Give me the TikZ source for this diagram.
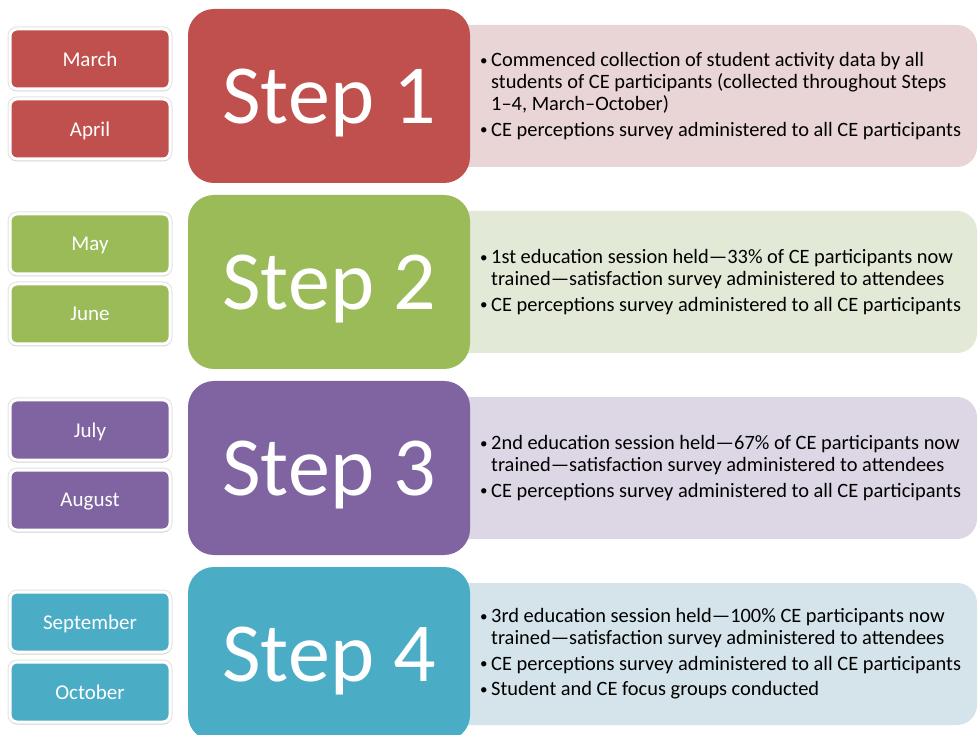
\documentclass[tikz,border=0pt]{standalone}
\usepackage{fontspec}
\setmainfont{Carlito}
\usetikzlibrary{shadows}

\definecolor{stepred}{HTML}{C0504D}
\definecolor{stepgreen}{HTML}{9BBB59}
\definecolor{steppurple}{HTML}{8064A2}
\definecolor{stepteal}{HTML}{4BACC6}
\definecolor{notered}{HTML}{EAD5D6}
\definecolor{notegreen}{HTML}{E2E9D6}
\definecolor{notepurple}{HTML}{DDD6E4}
\definecolor{noteteal}{HTML}{D4E4EA}

% small bullet with a hanging indent
\newcommand{\bul}{\makebox[11pt][l]{\raisebox{1.5pt}{\fontsize{15}{15}\selectfont\textbullet}}}
\newcommand{\ind}{\hspace*{11pt}}

\begin{document}
\begin{tikzpicture}[x=1pt, y=-1pt,
		stepbox/.style={rounded corners=26pt, minimum width=282pt, minimum height=174pt, inner sep=0pt,
			text=white, text depth=0pt, font=\fontsize{84}{90}\selectfont},
		notes/.style={rounded corners=20pt, minimum width=537pt, minimum height=142pt, inner sep=0pt},
		month/.style={rounded corners=7pt, draw=white, line width=3pt, minimum width=160pt, minimum height=60pt,
			text=white, text depth=0pt, font=\fontsize{21}{24}\selectfont,
			preaction={draw=black!11, line width=5pt},
			drop shadow={opacity=0.15, shadow xshift=0pt, shadow yshift=-2.5pt}},
		items/.style={anchor=west, align=left, inner sep=0pt, font=\fontsize{20.4}{22}\selectfont}]
			\useasboundingbox (0,0) rectangle (978,735);

			% Step 1
			\node[notes, fill=notered] (notes1) at (708.5,96) {};
			\node[stepbox, fill=stepred] (step1) at (329,96) {Step 1};
			\node[month, fill=stepred] (march) at (90,59) {March};
			\node[month, fill=stepred] (april) at (90,129) {April};
			\node[items] (items1) at (480,96) {\bul Commenced collection of student activity data by all\\
				\ind students of CE participants (collected throughout Steps\\
				\ind 1–4, March–October)\\[3.5pt]
				\bul CE perceptions survey administered to all CE participants};

			% Step 2
			\node[notes, fill=notegreen] (notes2) at (708.5,282) {};
			\node[stepbox, fill=stepgreen] (step2) at (329,282) {Step 2};
			\node[month, fill=stepgreen] (may) at (90,244) {May};
			\node[month, fill=stepgreen] (june) at (90,314) {June};
			\node[items] (items2) at (480,282) {\bul 1st education session held—33\% of CE participants now\\
				\ind trained—satisfaction survey administered to attendees\\[3.5pt]
				\bul CE perceptions survey administered to all CE participants};

			% Step 3
			\node[notes, fill=notepurple] (notes3) at (708.5,468) {};
			\node[stepbox, fill=steppurple] (step3) at (329,468) {Step 3};
			\node[month, fill=steppurple] (july) at (90,430) {July};
			\node[month, fill=steppurple] (august) at (90,500) {August};
			\node[items] (items3) at (480,468) {\bul 2nd education session held—67\% of CE participants now\\
				\ind trained—satisfaction survey administered to attendees\\[3.5pt]
				\bul CE perceptions survey administered to all CE participants};

			% Step 4
			\node[notes, fill=noteteal] (notes4) at (708.5,654) {};
			\node[stepbox, fill=stepteal] (step4) at (329,654) {Step 4};
			\node[month, fill=stepteal] (september) at (90,622) {September};
			\node[month, fill=stepteal] (october) at (90,692) {October};
			\node[items] (items4) at (480,654) {\bul 3rd education session held—100\% CE participants now\\
				\ind trained—satisfaction survey administered to attendees\\[3.5pt]
				\bul CE perceptions survey administered to all CE participants\\[3.5pt]
				\bul Student and CE focus groups conducted};
		\end{tikzpicture}
\end{document}
